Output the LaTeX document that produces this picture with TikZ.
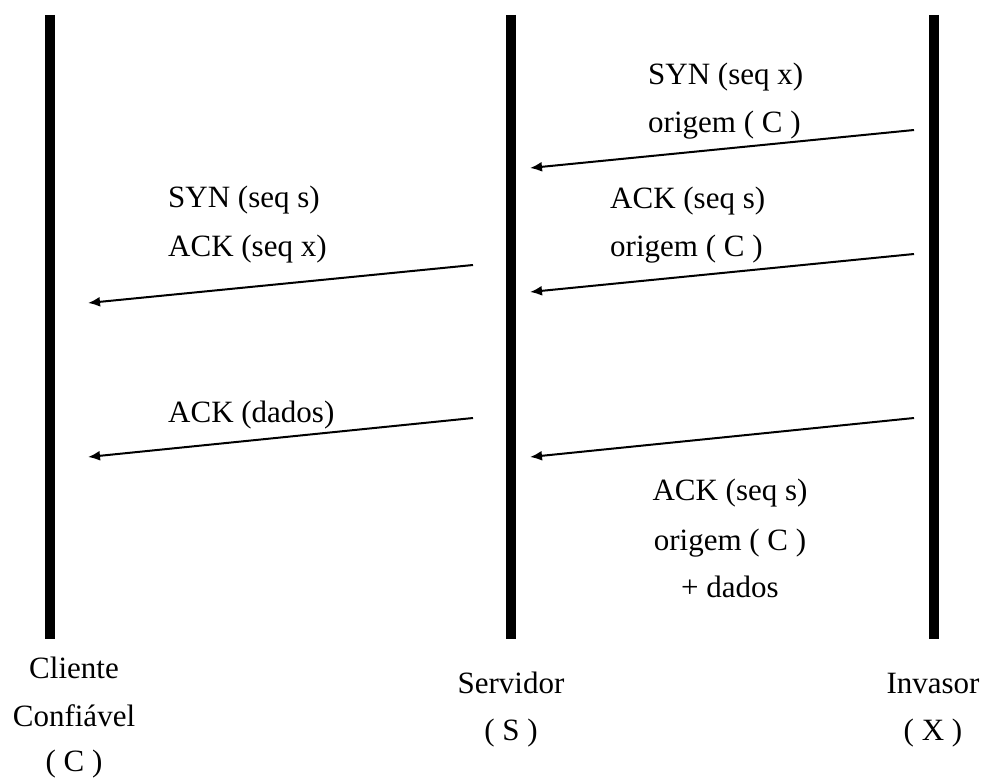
\documentclass[tikz,border=0pt]{standalone}
\usepackage{fontspec}
\setmainfont{Liberation Serif}
\usetikzlibrary{arrows.meta}
\begin{document}
\begin{tikzpicture}[x=1pt,y=-1pt,
  lifeline/.style={line width=10pt},
  msg/.style={line width=2pt,-{Latex[length=12pt,width=10pt]}},
  lbl/.style={inner sep=0pt,font=\fontsize{31}{48}\selectfont},
  lline/.style={lbl,anchor=base west},
  cline/.style={lbl,anchor=base},
]
\useasboundingbox (0,0) rectangle (984,778);

% lifelines
\coordinate (Ctop) at (50,15);   \coordinate (Cbot) at (50,639);
\coordinate (Stop) at (511,15);  \coordinate (Sbot) at (511,639);
\coordinate (Xtop) at (934,15);  \coordinate (Xbot) at (934,639);
\draw[lifeline] (Ctop) -- (Cbot);
\draw[lifeline] (Stop) -- (Sbot);
\draw[lifeline] (Xtop) -- (Xbot);

% message end points
\coordinate (x1) at (914,130); \coordinate (s1) at (530,168);
\coordinate (x2) at (914,254); \coordinate (s2) at (530,292);
\coordinate (x3) at (914,418); \coordinate (s3) at (530,457);
\coordinate (s4) at (473,265); \coordinate (c4) at (88,303);
\coordinate (s5) at (473,418); \coordinate (c5) at (88,457);

\draw[msg] (x1) -- (s1);
\draw[msg] (x2) -- (s2);
\draw[msg] (x3) -- (s3);
\draw[msg] (s4) -- (c4);
\draw[msg] (s5) -- (c5);

% message labels
\node[lline] (m1a) at (648,85)  {SYN (seq x)};
\node[lline] (m1b) at (648,133) {origem ( C )};
\node[lline] (m2a) at (610,208) {ACK (seq s)};
\node[lline] (m2b) at (610,256) {origem ( C )};
\node[lline] (m4a) at (168,207) {SYN (seq s)};
\node[lline] (m4b) at (168,256) {ACK (seq x)};
\node[lline] (m5a) at (168,422) {ACK (dados)};
\node[cline] (m3a) at (730,500) {ACK (seq s)};
\node[cline] (m3b) at (730,550) {origem ( C )};
\node[cline] (m3c) at (730,597) {+ dados};

% participants
\node[cline] (c1) at (74,678) {Cliente};
\node[cline] (c2) at (74,726) {Confiável};
\node[cline] (c3) at (74,771) {( C )};
\node[cline] (sv1) at (511,693) {Servidor};
\node[cline] (sv2) at (511,740) {( S )};
\node[cline] (iv1) at (933,693) {Invasor};
\node[cline] (iv2) at (933,740) {( X )};
\end{tikzpicture}
\end{document}
